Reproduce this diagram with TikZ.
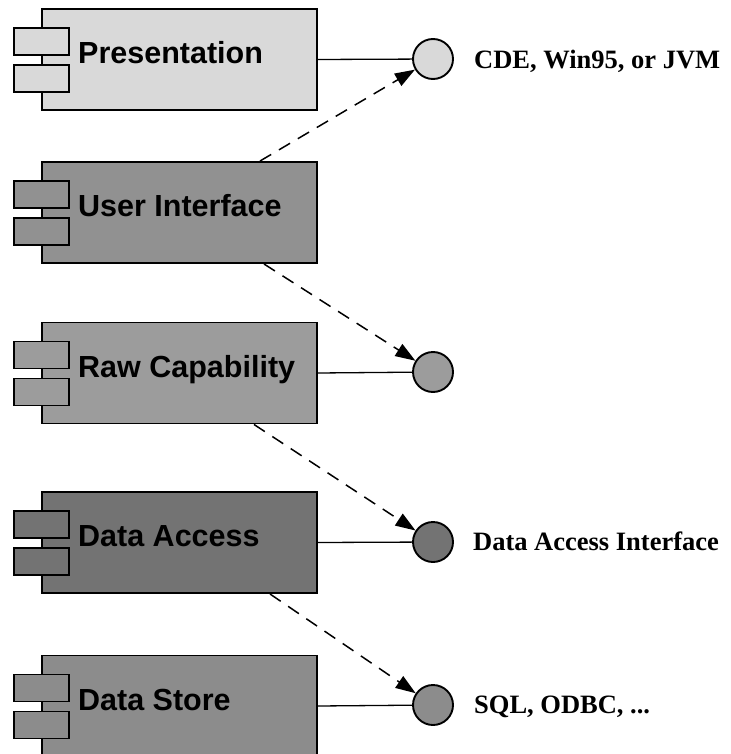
\documentclass[tikz,border=0pt]{standalone}
\usepackage{fontspec}
\setmainfont{Liberation Serif}
\setsansfont{Liberation Sans}
\usetikzlibrary{positioning,arrows.meta}
\definecolor{presgray}{gray}{0.85}
\definecolor{uigray}{gray}{0.57}
\definecolor{rawgray}{gray}{0.61}
\definecolor{dagray}{gray}{0.45}
\definecolor{dsgray}{gray}{0.55}

\begin{document}
\begin{tikzpicture}[x=1pt,y=-1pt,
		comp/.style={draw,line width=1.9pt,minimum width=275pt,minimum height=101pt,inner sep=0pt},
		port/.style={draw,line width=1.9pt,minimum width=55pt,minimum height=27pt,inner sep=0pt},
		ifc/.style={circle,draw,line width=1.9pt,minimum size=40pt,inner sep=0pt},
		compname/.style={font=\sffamily\bfseries\fontsize{30.5}{36}\selectfont,anchor=base west,inner sep=0pt},
		iflabel/.style={font=\bfseries\fontsize{26.5}{32}\selectfont,anchor=base west,inner sep=0pt},
		dep/.style={line width=1.5pt,dash pattern=on 13pt off 9pt,-{Triangle[length=20pt,width=14pt]}}]
				\useasboundingbox (0,0) rectangle (730,754);
				% components
				\foreach \nm/\txt/\shade/\y in {pres/Presentation/presgray/59.5,ui/User Interface/uigray/212.5,raw/Raw Capability/rawgray/373,da/Data Access/dagray/542.5,ds/Data Store/dsgray/706}{
					\node[comp,fill=\shade] (\nm) at (179.5,\y) {};
					\node[port,fill=\shade] (\nm-p1) at (41.5,\y-18) {};
					\node[port,fill=\shade] (\nm-p2) at (41.5,\y+19) {};
					\node[compname] (\nm-txt) at (78,\y+4) {\txt};
				}
				% interfaces
				\foreach \nm/\shade/\y in {pres/presgray/59,raw/rawgray/372,da/dagray/542,ds/dsgray/705}{
					\node[ifc,fill=\shade] (\nm-if) at (433,\y) {};
					\draw[line width=1.3pt] (\nm.east) -- (\nm-if);
				}
				% interface labels
				\node[iflabel] (pres-lbl) at ([xshift=20pt,yshift=-10pt]pres-if.east) {CDE, Win95, or JVM};
				\node[iflabel] (da-lbl) at ([xshift=19pt,yshift=-8pt]da-if.east) {Data Access Interface};
				\node[iflabel] (ds-lbl) at ([xshift=20pt,yshift=-8pt]ds-if.east) {SQL, ODBC, ...};
				% dependencies
				\draw[dep] ([xshift=-58pt]ui.north east) -- (pres-if);
				\draw[dep] ([xshift=-54pt]ui.south east) -- (raw-if);
				\draw[dep] ([xshift=-64pt]raw.south east) -- (da-if);
				\draw[dep] ([xshift=-48pt]da.south east) -- (ds-if);
			\end{tikzpicture}
\end{document}
